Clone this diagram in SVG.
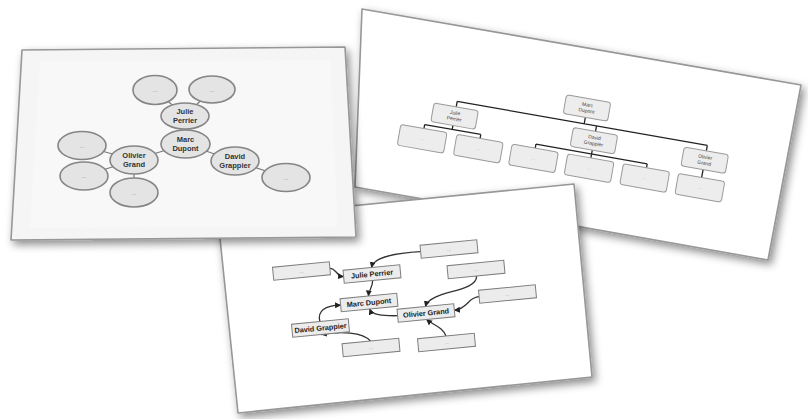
<svg xmlns="http://www.w3.org/2000/svg" width="808" height="419" viewBox="0 0 808 419">
<defs>
<filter id="shadow" x="-10%" y="-10%" width="125%" height="130%">
<feGaussianBlur in="SourceAlpha" stdDeviation="4"/>
<feOffset dx="3" dy="4" result="b"/>
<feFlood flood-color="#000" flood-opacity="0.45"/>
<feComposite in2="b" operator="in"/>
<feMerge><feMergeNode/><feMergeNode in="SourceGraphic"/></feMerge>
</filter>
<marker id="arr" markerUnits="userSpaceOnUse" markerWidth="7" markerHeight="7" refX="5.5" refY="3" orient="auto">
<path d="M0,0 L6,3 L0,6 z" fill="#222"/>
</marker>
<style>
.card{stroke:#979797;stroke-width:1.6;stroke-linejoin:round}
.ell{fill:#e4e4e4;stroke:#858585;stroke-width:1.6}
.c1line{stroke:#7a7a7a;stroke-width:1.2;fill:none}
.n1{font-family:"Liberation Sans",Arial,sans-serif;font-weight:bold;font-size:7.5px;fill:#333;text-anchor:middle}
.d1{font-family:"Liberation Sans",Arial,sans-serif;font-size:6px;fill:#888;text-anchor:middle}
.box2{fill:#ededed;stroke:#9a9a9a;stroke-width:1}
.c2line{stroke:#222;stroke-width:1.3;fill:none}
.n2{font-family:"Liberation Sans",Arial,sans-serif;font-size:5px;fill:#444;text-anchor:middle}
.d2{font-family:"Liberation Sans",Arial,sans-serif;font-size:4px;fill:#999;text-anchor:middle}
.box3{fill:#ececec;stroke:#7d7d7d;stroke-width:1}
.n3{font-family:"Liberation Sans",Arial,sans-serif;font-weight:bold;font-size:7.3px;fill:#222;text-anchor:middle}
.d3{font-family:"Liberation Sans",Arial,sans-serif;font-size:5px;fill:#888;text-anchor:middle}
.arrow{stroke:#333;stroke-width:1.3;fill:none;marker-end:url(#arr)}
</style>
</defs>
<rect width="808" height="419" fill="#fff"/>

<!-- Card 2: org chart (back) -->
<g id="card2">
<polygon class="card" points="362,9 801,85 768,260 355,187" fill="#fff" filter="url(#shadow)"/>
<g transform="rotate(10 587 108)">
<g id="c2-connectors">
<path class="c2line" d="M587,117.5 V124 M458,124 H712 M458,124 V129.5 M599.5,124 V129.5 M712,124 V129.5"/>
<path class="c2line" d="M458,148.5 V152.5 M430,152.5 H487 M430,152.5 V156.5 M487,152.5 V156.5"/>
<path class="c2line" d="M599.5,148.5 V152.5 M543,152.5 H656 M543,152.5 V156.5 M599.5,152.5 V156.5 M656,152.5 V156.5"/>
<path class="c2line" d="M712,148.5 V156.5"/>
</g>
<g id="c2-marc"><rect class="box2" x="564.5" y="98.5" width="45" height="19" rx="3"/><text class="n2" x="587" y="106.5">Marc</text><text class="n2" x="587" y="112.5">Dupont</text></g>
<g id="c2-julie"><rect class="box2" x="435.5" y="129.5" width="45" height="19" rx="3"/><text class="n2" x="458" y="137.5">Julie</text><text class="n2" x="458" y="143.5">Perrier</text></g>
<g id="c2-david"><rect class="box2" x="577" y="129.5" width="45" height="19" rx="3"/><text class="n2" x="599.5" y="137.5">David</text><text class="n2" x="599.5" y="143.5">Grappier</text></g>
<g id="c2-olivier"><rect class="box2" x="689.5" y="129.5" width="45" height="19" rx="3"/><text class="n2" x="712" y="137.5">Olivier</text><text class="n2" x="712" y="143.5">Grand</text></g>
<g id="c2-j1"><rect class="box2" x="406.5" y="156.5" width="47" height="21" rx="3"/><text class="d2" x="430" y="168">...</text></g>
<g id="c2-j2"><rect class="box2" x="463.5" y="156.5" width="47" height="21" rx="3"/><text class="d2" x="487" y="168">...</text></g>
<g id="c2-d1"><rect class="box2" x="519.5" y="156.5" width="47" height="21" rx="3"/><text class="d2" x="543" y="168">...</text></g>
<g id="c2-d2"><rect class="box2" x="576" y="156.5" width="47" height="21" rx="3"/><text class="d2" x="599.5" y="168">...</text></g>
<g id="c2-d3"><rect class="box2" x="632.5" y="156.5" width="47" height="21" rx="3"/><text class="d2" x="656" y="168">...</text></g>
<g id="c2-o1"><rect class="box2" x="688.5" y="156.5" width="47" height="21" rx="3"/><text class="d2" x="712" y="168">...</text></g>
</g>
</g>

<!-- Card 3: flow with arrows -->
<g id="card3">
<polygon class="card" points="218,219 574,184 592,377 238,413" fill="#fff" filter="url(#shadow)"/>
<g id="c3-connectors">
<path class="arrow" d="M420.6,251.7 C398,253 374,256 371.5,267.5"/>
<path class="arrow" d="M329.9,268.3 C336,268 336,276 343.6,276.7"/>
<path class="arrow" d="M372.6,280.5 C373,287 369,289 368.4,296"/>
<path class="arrow" d="M319.9,321.5 C317,311 325,305.5 340.6,305.2"/>
<path class="arrow" d="M397.6,315.7 C382,316 372,315 369.6,309"/>
<path class="arrow" d="M476.6,276 C477,293 430,290 425.4,306.5"/>
<path class="arrow" d="M479.1,296.7 C468,297 468,309 454.4,310.3"/>
<path class="arrow" d="M445.9,336 C443,327 433,325 426.6,319.5"/>
<path class="arrow" d="M370.4,341 C363,332 340,331 321.1,334.5"/>
</g>
<g id="c3-julie" transform="translate(372,274) rotate(-5.5)"><rect class="box3" x="-28.5" y="-6.5" width="57" height="13"/><text class="n3" x="0" y="2.6">Julie Perrier</text></g>
<g id="c3-marc" transform="translate(369,302.5) rotate(-5.5)"><rect class="box3" x="-28.5" y="-6.5" width="57" height="13"/><text class="n3" x="0" y="2.6">Marc Dupont</text></g>
<g id="c3-olivier" transform="translate(426,313) rotate(-5.5)"><rect class="box3" x="-28.5" y="-6.5" width="57" height="13"/><text class="n3" x="0" y="2.6">Olivier Grand</text></g>
<g id="c3-david" transform="translate(320.5,328) rotate(-5.5)"><rect class="box3" x="-28.5" y="-6.5" width="57" height="13"/><text class="n3" x="0" y="2.6">David Grappier</text></g>
<g id="c3-tr" transform="translate(449,249) rotate(-5.5)"><rect class="box3" x="-28.5" y="-6.5" width="57" height="13"/><text class="d3" x="0" y="1.5">...</text></g>
<g id="c3-l" transform="translate(301.5,271) rotate(-5.5)"><rect class="box3" x="-28.5" y="-6.5" width="57" height="13"/><text class="d3" x="0" y="1.5">...</text></g>
<g id="c3-rm" transform="translate(476,269.5) rotate(-5.5)"><rect class="box3" x="-28.5" y="-6.5" width="57" height="13"/><text class="d3" x="0" y="1.5">...</text></g>
<g id="c3-fr" transform="translate(507.5,294) rotate(-5.5)"><rect class="box3" x="-28.5" y="-6.5" width="57" height="13"/><text class="d3" x="0" y="1.5">...</text></g>
<g id="c3-br" transform="translate(446.5,342.5) rotate(-5.5)"><rect class="box3" x="-28.5" y="-6.5" width="57" height="13"/><text class="d3" x="0" y="1.5">...</text></g>
<g id="c3-bl" transform="translate(371,347.5) rotate(-5.5)"><rect class="box3" x="-28.5" y="-6.5" width="57" height="13"/><text class="d3" x="0" y="1.5">...</text></g>
</g>

<!-- Card 1: mind map (front) -->
<g id="card1">
<polygon class="card" points="22,50 345,47 356,237 11,240" fill="#f5f5f5" filter="url(#shadow)"/>
<polygon points="40,62 330,60 338,226 30,228" fill="#f8f8f8"/>
<g id="c1-connectors">
<line class="c1line" x1="185" y1="116" x2="185.5" y2="144"/>
<line class="c1line" x1="155" y1="90" x2="185" y2="116"/>
<line class="c1line" x1="212" y1="89.5" x2="185" y2="116"/>
<line class="c1line" x1="185.5" y1="144" x2="134" y2="160"/>
<line class="c1line" x1="185.5" y1="144" x2="235" y2="161"/>
<line class="c1line" x1="134" y1="160" x2="82" y2="145.5"/>
<line class="c1line" x1="134" y1="160" x2="84" y2="176"/>
<line class="c1line" x1="134" y1="160" x2="134" y2="192.5"/>
<line class="c1line" x1="235" y1="161" x2="286" y2="177.5"/>
</g>
<g id="c1-dots1"><ellipse class="ell" cx="155" cy="90" rx="22" ry="14.5"/><text class="d1" x="155" y="92">...</text></g>
<g id="c1-dots2"><ellipse class="ell" cx="212" cy="89.5" rx="23" ry="13.5"/><text class="d1" x="212" y="91.5">...</text></g>
<g id="c1-julie"><ellipse class="ell" cx="185" cy="116" rx="24" ry="13"/><text class="n1" x="185" y="114">Julie</text><text class="n1" x="185" y="122.5">Perrier</text></g>
<g id="c1-marc"><ellipse class="ell" cx="185.5" cy="144" rx="24.5" ry="14"/><text class="n1" x="185.5" y="142">Marc</text><text class="n1" x="185.5" y="150.5">Dupont</text></g>
<g id="c1-olivier"><ellipse class="ell" cx="134" cy="160" rx="24" ry="14"/><text class="n1" x="134" y="158">Olivier</text><text class="n1" x="134" y="166.5">Grand</text></g>
<g id="c1-david"><ellipse class="ell" cx="235" cy="161" rx="24" ry="14"/><text class="n1" x="235" y="159">David</text><text class="n1" x="235" y="167.5">Grappier</text></g>
<g id="c1-dots3"><ellipse class="ell" cx="82" cy="145.5" rx="24" ry="14"/><text class="d1" x="82" y="147.5">...</text></g>
<g id="c1-dots4"><ellipse class="ell" cx="84" cy="176" rx="24" ry="14"/><text class="d1" x="84" y="178">...</text></g>
<g id="c1-dots5"><ellipse class="ell" cx="134" cy="192.5" rx="24" ry="14.5"/><text class="d1" x="134" y="194.5">...</text></g>
<g id="c1-dots6"><ellipse class="ell" cx="286" cy="177.5" rx="24" ry="14"/><text class="d1" x="286" y="179.5">...</text></g>
</g>
</svg>
